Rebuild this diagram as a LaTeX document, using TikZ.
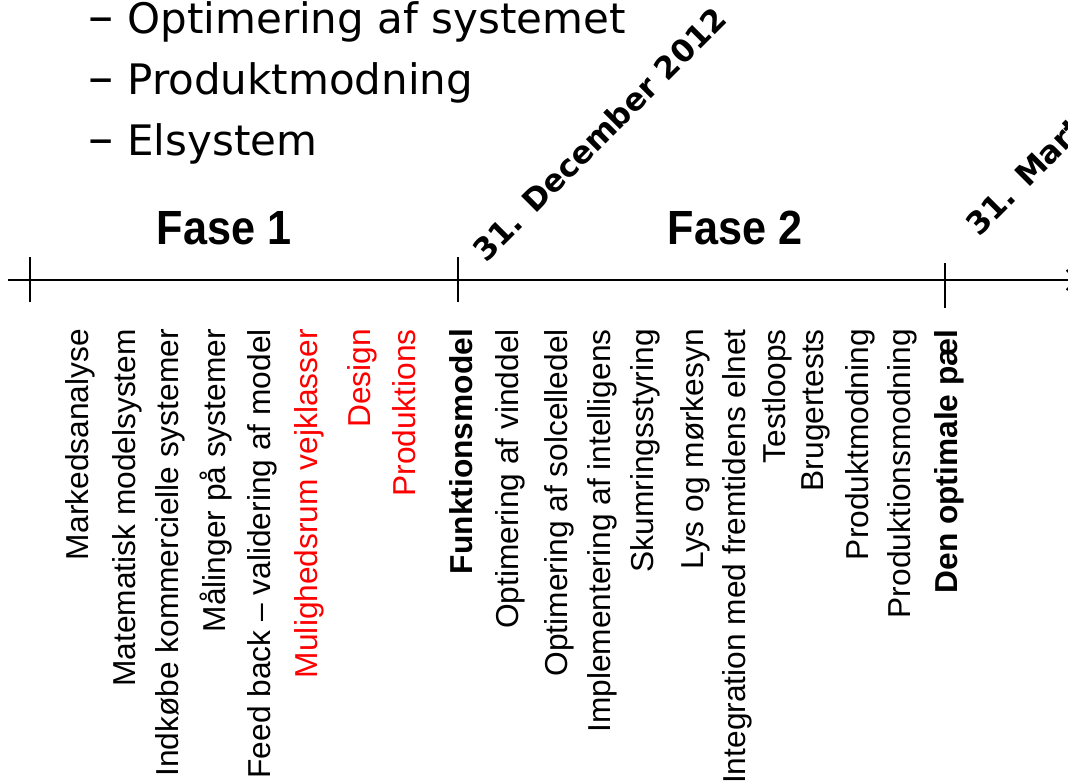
\documentclass[tikz,border=0pt]{standalone}
\usepackage{fontspec}
\setmainfont{Liberation Sans}
\newfontfamily\verdfont{DejaVu Sans}
\usepackage{graphicx}
\usepackage{tikz}
\usetikzlibrary{arrows.meta}
\definecolor{labred}{RGB}{255, 0, 0}
\newcommand{\bdash}{\scalebox{1.2}[1.2]{–}\hspace{14pt}}
\tikzset{
  tasknode/.style={rotate=90, anchor=base east, inner sep=0pt, font=\fontsize{31.7pt}{38pt}\selectfont},
  redtask/.style={tasknode, text=labred},
  keytask/.style={tasknode, font=\fontsize{31.7pt}{38pt}\selectfont\bfseries},
  bulletnode/.style={anchor=base west, inner sep=0pt, font=\verdfont\fontsize{42pt}{50pt}\selectfont},
  datenode/.style={rotate=45, anchor=base west, inner sep=0pt, font=\verdfont\bfseries\fontsize{31pt}{37pt}\selectfont},
  fasenode/.style={anchor=base, inner sep=0pt, font=\fontsize{48pt}{56pt}\selectfont\bfseries},
  tline/.style={line width=2pt},
  tickline/.style={line width=1.5pt},
}

\begin{document}
\begin{tikzpicture}[x=1pt, y=-1pt]
  \useasboundingbox (0,0) rectangle (1068,782);
  \node[bulletnode] (b1) at (88,33) {\bdash Optimering af systemet};
  \node[bulletnode] (b2) at (88,94) {\bdash Produktmodning};
  \node[bulletnode] (b3) at (88,155) {\bdash Elsystem};
  \coordinate (axl) at (8,280);
  \coordinate (axr) at (1078,280);
  \draw[tline, -{Straight Barb[length=10pt, width=20pt]}] (axl) -- (axr);
  \foreach \x/\y in {30/280, 458/280, 945/286} \draw[tickline] (\x,\y-23) -- (\x,\y+22);
  \node[fasenode] (fase1) at (224,244) {\scalebox{0.9}[1]{Fase 1}};
  \node[fasenode] (fase2) at (735,244) {\scalebox{0.9}[1]{Fase 2}};
  \node[datenode] (dec) at (486,264) {31. December 2012};
  \node[datenode] (mar) at (979,238) {31. Marts 2013};
  \foreach \x/\t in {88/Markedsanalyse, 135/Matematisk modelsystem, 178/Indkøbe kommercielle systemer,
    225/Målinger på systemer, 270/Feed back – validering af model, 518/Optimering af vinddel,
    567/Optimering af solcelledel, 610/Implementering af intelligens, 653/Skumringsstyring,
    703/Lys og mørkesyn, 745/Integration med fremtidens elnet, 785/Testloops, 823/Brugertests,
    868/Produktmodning, 910/Produktionsmodning}
    \node[tasknode] (task\x) at (\x,329) {\t};
  \foreach \x/\t in {317/Mulighedsrum vejklasser, 370/Design, 415/Produktions}
    \node[redtask] (task\x) at (\x,329) {\t};
  \foreach \x/\t in {472/Funktionsmodel, 957/Den optimale pæl}
    \node[keytask] (task\x) at (\x,329) {\t};
\end{tikzpicture}
\end{document}
